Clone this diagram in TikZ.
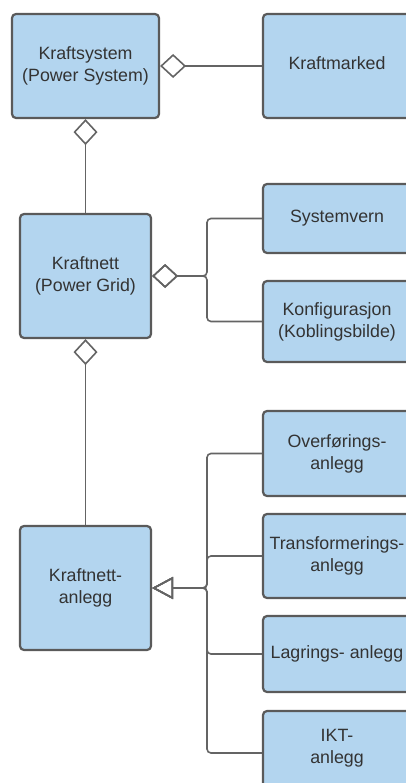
\documentclass[tikz,border=0pt]{standalone}
\usepackage{fontspec}
\setmainfont{Liberation Sans}
\usetikzlibrary{arrows.meta}
\definecolor{boxfill}{HTML}{B3D5EF}
\definecolor{boxline}{HTML}{5A5A5A}
\definecolor{wire}{HTML}{646464}
\definecolor{ink}{HTML}{333333}
\begin{document}
\begin{tikzpicture}[x=1pt,y=-1pt,
  block/.style={draw=boxline, fill=boxfill, line width=2.2pt, rounded corners=4pt,
    align=center, text=ink, inner sep=0pt,
    font=\fontsize{17.8}{21.8}\selectfont},
  wireline/.style={draw=wire, line width=1.6pt, rounded corners=4pt},
  agg/.style={wireline, {Diamond[open, length=26pt, width=24pt, line width=1.6pt]}-},
  gen/.style={wireline, {Triangle[open, length=21pt, width=22pt, line width=1.6pt]}-}]
  \useasboundingbox (0,0) rectangle (406,783);
  \clip (0,0) rectangle (406,783);

  % left column
  \node[block, minimum width=147pt, minimum height=104pt] (ks) at (85.5,66) {Kraftsystem\\(Power System)};
  \node[block, minimum width=131pt, minimum height=124pt] (kn) at (85.5,276) {Kraftnett\\(Power Grid)};
  \node[block, minimum width=131pt, minimum height=124pt] (ka) at (85.5,588) {Kraftnett-\\anlegg};

  % right column
  \node[block, minimum width=148pt, minimum height=104pt] (km) at (337,66)
    {\raisebox{3pt}[\height][\depth]{Kraftmarked}};
  \node[block, minimum width=148pt, minimum height=69pt] (sv) at (337,218.5) {Systemvern};
  \node[block, minimum width=148pt, minimum height=81pt] (kf) at (337,321.5) {Konfigurasjon\\(Koblingsbilde)};
  \node[block, minimum width=148pt, minimum height=85pt] (ov) at (337,453.5) {Overførings-\\anlegg};
  \node[block, minimum width=148pt, minimum height=84pt] (tr) at (337,556) {Transformerings-\\anlegg};
  \node[block, minimum width=148pt, minimum height=76pt] (lg) at (337,654) {Lagrings- anlegg};
  \node[block, minimum width=148pt, minimum height=84pt] (ikt) at (337,753)
    {\raisebox{4.5pt}[\height][\depth]{\begin{tabular}{@{}c@{}}IKT-\\anlegg\end{tabular}}};

  % bus points
  \coordinate (busA) at (207,276);
  \coordinate (busB) at (207,588);

  % aggregation
  \draw[agg] (ks.east) -- (km.west);
  \draw[agg] (ks.south) -- (kn.north);
  \draw[agg] (kn.south) -- (ka.north);
  \draw[agg] (kn.east) -- (busA) |- (sv.west);
  \draw[agg] (kn.east) -- (busA) |- (kf.west);

  % generalisation
  \draw[gen] (ka.east) -- (busB) |- (ov.west);
  \draw[gen] (ka.east) -- (busB) |- (tr.west);
  \draw[gen] (ka.east) -- (busB) |- (lg.west);
  \draw[gen] (ka.east) -- (busB) |- (ikt.west);
\end{tikzpicture}
\end{document}
